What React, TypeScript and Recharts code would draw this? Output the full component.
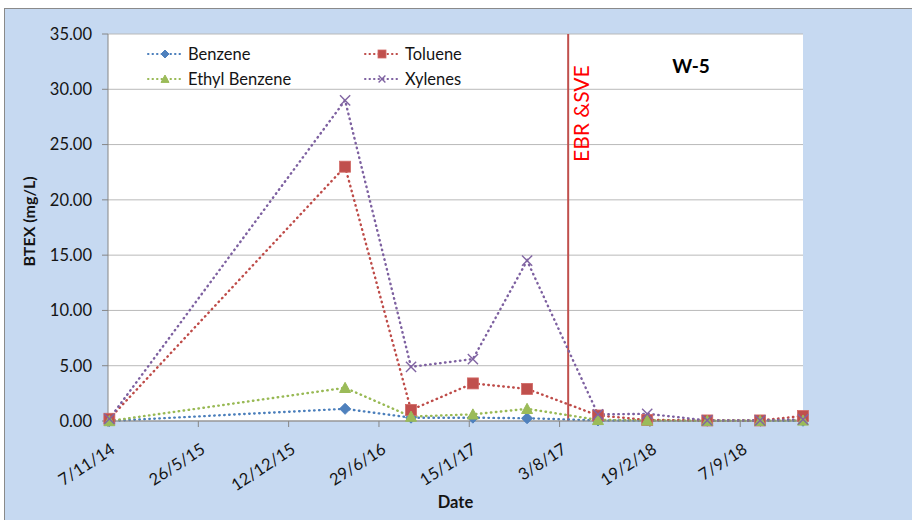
import React from "react";
import {
  LineChart,
  Line,
  XAxis,
  YAxis,
  CartesianGrid,
  ReferenceLine,
  Label,
} from "recharts";

// sampling dates (yyyy-mm-dd) and BTEX results in mg/L
const sampleDates = [
  "2014-11-10",
  "2016-04-15",
  "2016-09-08",
  "2017-01-23",
  "2017-05-23",
  "2017-10-27",
  "2018-02-13",
  "2018-06-26",
  "2018-10-21",
  "2019-01-24",
];
const benzene = [0.0, 1.1, 0.3, 0.3, 0.25, 0.05, 0.05, 0.02, 0.02, 0.02];
const toluene = [0.2, 23.0, 1.0, 3.4, 2.9, 0.5, 0.1, 0.05, 0.05, 0.45];
const ethylBenzene = [0.0, 3.0, 0.4, 0.6, 1.1, 0.1, 0.05, 0.02, 0.02, 0.05];
const xylenes = [0.2, 29.0, 4.9, 5.6, 14.5, 0.6, 0.65, 0.05, 0.05, 0.15];

const xTickDates = [
  "2014-11-07",
  "2015-05-26",
  "2015-12-12",
  "2016-06-29",
  "2017-01-15",
  "2017-08-03",
  "2018-02-19",
  "2018-09-07",
];
const yTicks = [0, 5, 10, 15, 20, 25, 30, 35];
const ebrDate = "2017-08-22";

const FONT = "Lato, 'Liberation Sans', sans-serif";
const TEXT = "#141414";
const AXIS = "#868686";

type MarkerKind = "diamond" | "square" | "triangle" | "cross";

const series: { key: string; name: string; values: number[]; line: string; fill: string; marker: MarkerKind }[] = [
  { key: "benzene", name: "Benzene", values: benzene, line: "#4a7ebb", fill: "#4f81bd", marker: "diamond" },
  { key: "toluene", name: "Toluene", values: toluene, line: "#be4b48", fill: "#c0504d", marker: "square" },
  { key: "ethyl", name: "Ethyl Benzene", values: ethylBenzene, line: "#98b954", fill: "#9bbb59", marker: "triangle" },
  { key: "xylenes", name: "Xylenes", values: xylenes, line: "#7d60a0", fill: "#8064a2", marker: "cross" },
];

const rows = sampleDates.map((d, i) => {
  const row: Record<string, number> = { t: Date.parse(d) };
  series.forEach((s) => (row[s.key] = s.values[i]));
  return row;
});

function marker(kind: MarkerKind, cx: number, cy: number, r: number, fill: string, key?: string | number) {
  if (kind === "diamond")
    return (
      <polygon key={key} points={`${cx},${cy - r} ${cx + r},${cy} ${cx},${cy + r} ${cx - r},${cy}`} fill={fill} stroke={fill} />
    );
  if (kind === "square")
    return <rect key={key} x={cx - r} y={cy - r} width={r * 2} height={r * 2} fill={fill} stroke="#d26a67" strokeWidth={0.8} />;
  if (kind === "triangle")
    return (
      <polygon key={key} points={`${cx},${cy - r} ${cx + r},${cy + r * 0.85} ${cx - r},${cy + r * 0.85}`} fill={fill} stroke={fill} />
    );
  const k = r * 0.85;
  return (
    <g key={key} stroke={fill} strokeWidth={1.4}>
      <line x1={cx - k} y1={cy - k} x2={cx + k} y2={cy + k} />
      <line x1={cx - k} y1={cy + k} x2={cx + k} y2={cy - k} />
    </g>
  );
}

const fmtDate = (t: number) => {
  const d = new Date(t);
  return `${d.getUTCDate()}/${d.getUTCMonth() + 1}/${String(d.getUTCFullYear()).slice(2)}`;
};

const XTick = (props: any) => {
  const { x, y, payload } = props;
  const px = x + 8;
  const py = y + 25;
  return (
    <text x={px} y={py} textAnchor="end" fill={TEXT} fontSize={16.5} fontFamily={FONT} transform={`rotate(-33 ${px} ${py})`}>
      {fmtDate(payload.value)}
    </text>
  );
};

function LegendBox() {
  const items = [
    { s: series[0], left: 147, top: 54 },
    { s: series[1], left: 364, top: 54 },
    { s: series[2], left: 147, top: 79 },
    { s: series[3], left: 364, top: 79 },
  ];
  return (
    <>
      {items.map(({ s, left, top }) => (
        <div
          key={s.key}
          style={{ position: "absolute", left, top: top - 10, height: 20, display: "flex", alignItems: "center", fontFamily: FONT, fontSize: 16.5, color: TEXT }}
        >
          <svg width={36} height={14} style={{ marginRight: 5 }}>
            <line x1={1} y1={7} x2={35} y2={7} stroke={s.line} strokeWidth={2} strokeDasharray="0.5 4" strokeLinecap="round" />
            {marker(s.marker, 18, 7, 4, s.fill)}
          </svg>
          <span>{s.name}</span>
        </div>
      ))}
    </>
  );
}

export default function App() {
  return (
    <div style={{ position: "fixed", left: 0, top: 0, width: 912, height: 520, background: "#fff", overflow: "hidden" }}>
      <div
        style={{
          position: "absolute",
          left: 4,
          top: 8,
          width: 920,
          height: 530,
          background: "#c6d9f1",
          borderTop: "1px solid #8a8a8a",
          borderLeft: "1px solid #8a8a8a",
        }}
      />
      <div style={{ position: "absolute", left: 0, top: 0 }}>
        <LineChart width={912} height={520} data={rows} margin={{ top: 34, right: 109, bottom: 0, left: 18 }}>
          <CartesianGrid horizontal vertical={false} stroke="#b9b9b9" fill="#ffffff" />
          <XAxis
            dataKey="t"
            type="number"
            domain={[Date.parse(xTickDates[0]), "dataMax"]}
            ticks={xTickDates.map((d) => Date.parse(d))}
            tick={<XTick />}
            tickSize={6}
            tickMargin={0}
            height={99}
            stroke={AXIS}
            interval={0}
          >
            <Label
              value="Date"
              position="insideBottom"
              offset={12}
              style={{ fontFamily: FONT, fontSize: 16.5, fontWeight: 700, fill: TEXT }}
            />
          </XAxis>
          <YAxis
            type="number"
            domain={[0, 35]}
            ticks={yTicks}
            tickFormatter={(v: number) => v.toFixed(2)}
            tickSize={6}
            tickMargin={10}
            width={90}
            stroke={AXIS}
            tick={{ fill: TEXT, fontSize: 16.5, fontFamily: FONT }}
          >
            <Label
              content={(p: any) => {
                const vb = p.viewBox || {};
                const lx = vb.x + 10;
                const ly = vb.y + vb.height / 2 - 6;
                return (
                  <text
                    x={lx}
                    y={ly}
                    textAnchor="middle"
                    dominantBaseline="central"
                    transform={`rotate(-90 ${lx} ${ly})`}
                    style={{ fontFamily: FONT, fontSize: 16, fontWeight: 700, fill: TEXT }}
                  >
                    BTEX (mg/L)
                  </text>
                );
              }}
            />
          </YAxis>
          <ReferenceLine x={Date.parse(ebrDate)} stroke="#c0504d" strokeWidth={2}>
            <Label
              content={(p: any) => {
                const vb = p.viewBox || {};
                const lx = vb.x + 21;
                const ly = vb.y + 128;
                return (
                  <text
                    x={lx}
                    y={ly}
                    textAnchor="start"
                    transform={`rotate(-90 ${lx} ${ly})`}
                    style={{ fontFamily: FONT, fontSize: 21, fill: "#ff0000" }}
                  >
                    EBR &amp;SVE
                  </text>
                );
              }}
            />
          </ReferenceLine>
          {series.map((s) => (
            <Line
              key={s.key}
              dataKey={s.key}
              name={s.name}
              type="linear"
              stroke={s.line}
              strokeWidth={2.4}
              strokeDasharray="0.5 4.5"
              strokeLinecap="round"
              isAnimationActive={false}
              activeDot={false}
              dot={(p: any) => marker(s.marker, p.cx, p.cy, s.marker === "cross" ? 6 : 5.5, s.fill, p.index)}
            />
          ))}
        </LineChart>
      </div>
      <LegendBox />
      <div
        style={{
          position: "absolute",
          left: 691,
          top: 65,
          transform: "translate(-50%, -50%)",
          fontFamily: FONT,
          fontSize: 19,
          fontWeight: 700,
          color: "#000",
        }}
      >
        W-5
      </div>
    </div>
  );
}
